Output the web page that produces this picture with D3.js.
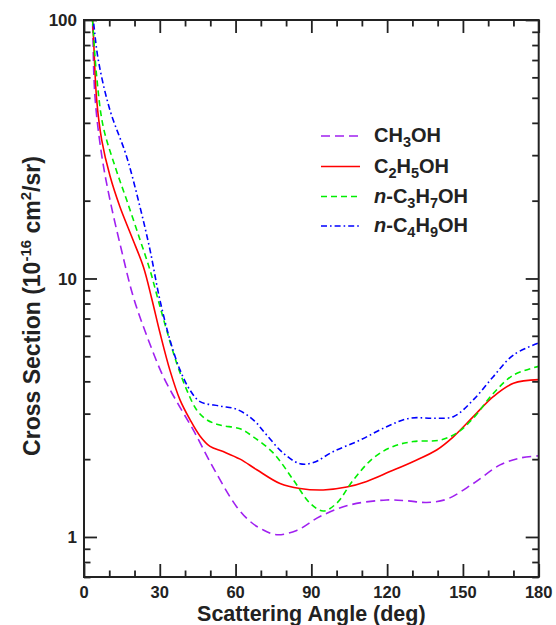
<!DOCTYPE html>
<html>
<head>
<meta charset="utf-8">
<script src="https://cdn.jsdelivr.net/npm/d3@7/dist/d3.min.js"></script>
<style>
  html, body { margin: 0; padding: 0; background: #fff; }
  svg { display: block; }
  text { font-family: "Liberation Sans", Arial, Helvetica, sans-serif; font-weight: bold; fill: #222; }
</style>
</head>
<body>
<svg id="chart" width="556" height="625"></svg>
<script>
// ---- data (angle in deg, cross section in 1e-16 cm^2/sr) ----
const angles_CH3OH = [2.5, 3.37, 4.35, 7.0, 10.3, 14.9, 19.5, 25.0, 31.4, 37.0, 43.3, 51.2, 60.4, 65.7, 70.5, 76.3, 84.2, 93.4, 105.3, 119.8, 128, 135.6, 143.6, 154.1, 164.7, 172.6, 180];
const values_CH3OH = [180, 100, 50.4, 30.0, 20.1, 12.8, 8.5, 5.95, 4.17, 3.30, 2.59, 1.85, 1.31, 1.15, 1.07, 1.02, 1.06, 1.20, 1.33, 1.39, 1.38, 1.36, 1.40, 1.61, 1.90, 2.02, 2.06];

const angles_C2H5OH = [2.5, 3.68, 5.03, 7.0, 10.3, 14.25, 18.9, 23.5, 26.8, 30.1, 34.0, 38.0, 42.0, 45.9, 49.9, 55.1, 61.8, 68.4, 77.6, 85.5, 94.7, 104.0, 111.9, 121.1, 130.4, 139.6, 146.2, 154.1, 162.0, 170.0, 180];
const values_C2H5OH = [150, 88.8, 49.0, 34.4, 24.9, 18.9, 14.5, 11.1, 8.37, 6.15, 4.42, 3.39, 2.84, 2.46, 2.24, 2.14, 2.0, 1.82, 1.61, 1.54, 1.52, 1.56, 1.64, 1.79, 1.96, 2.17, 2.44, 2.92, 3.49, 3.93, 4.06];

const angles_C3H7OH = [2.5, 3.37, 5.03, 7.6, 12.3, 16.9, 22.2, 26.1, 29.2, 32.7, 36.7, 40.7, 44.6, 48.6, 53.8, 61.8, 67.0, 75.0, 82.9, 89.5, 94.7, 100.0, 106.6, 114.5, 122.4, 130.4, 140.9, 147.5, 154.1, 162.0, 170.0, 180];
const values_C3H7OH = [130, 100, 60.3, 38.7, 27.1, 20.1, 14.1, 10.8, 8.37, 6.32, 4.70, 3.70, 3.10, 2.84, 2.71, 2.62, 2.44, 2.11, 1.66, 1.35, 1.26, 1.35, 1.66, 2.02, 2.24, 2.34, 2.37, 2.52, 2.88, 3.59, 4.23, 4.57];

const angles_C4H9OH = [2.5, 3.67, 5.65, 10.25, 16.88, 22.17, 26.13, 29.81, 34.04, 38.0, 41.96, 45.92, 53.8, 60.4, 67.0, 72.3, 78.9, 85.5, 90.8, 98.7, 109.3, 119.8, 129.0, 138.3, 146.2, 154.1, 162.0, 170.0, 180];
const values_C4H9OH = [123, 100, 70.1, 44.9, 29.6, 18.9, 12.9, 8.46, 5.78, 4.43, 3.70, 3.34, 3.21, 3.12, 2.84, 2.48, 2.11, 1.92, 1.94, 2.14, 2.37, 2.67, 2.88, 2.88, 2.92, 3.39, 4.17, 5.06, 5.63];

const xMajorTicks = [0, 30, 60, 90, 120, 150, 180];
const xMinorTicks = [10, 20, 40, 50, 70, 80, 100, 110, 130, 140, 160, 170];
const yMajorTicks = [1, 10, 100];
const yTickLabels = ["1", "10", "100"];
const yMinorTicks = [0.7, 0.8, 0.9, 2, 3, 4, 5, 6, 7, 8, 9, 20, 30, 40, 50, 60, 70, 80, 90];

const seriesNames = ["CH3OH", "C2H5OH", "n-C3H7OH", "n-C4H9OH"];
const seriesColors = ["#a020f0", "#ff0000", "#00ee00", "#0000ff"];

// ---- layout ----
const svg = d3.select("#chart");
const L = 84, R = 538.7, T = 20, B = 577;
const x = d3.scaleLinear().domain([0, 180]).range([L, R]);
const y = d3.scaleLog().domain([0.7, 100]).range([B, T]);

const series = [
  { a: angles_CH3OH, v: values_CH3OH, color: seriesColors[0], dash: "9,5" },
  { a: angles_C2H5OH, v: values_C2H5OH, color: seriesColors[1], dash: null },
  { a: angles_C3H7OH, v: values_C3H7OH, color: seriesColors[2], dash: "6,4" },
  { a: angles_C4H9OH, v: values_C4H9OH, color: seriesColors[3], dash: "6,3,1.6,3" }
];

svg.append("defs").append("clipPath").attr("id", "clip")
  .append("rect").attr("x", L).attr("y", T).attr("width", R - L).attr("height", B - T);

const line = d3.line().x(d => x(d[0])).y(d => y(d[1])).curve(d3.curveCatmullRom.alpha(0.5));
const gLines = svg.append("g").attr("clip-path", "url(#clip)");
series.forEach(s => {
  const pts = s.a.map((a, i) => [a, s.v[i]]);
  gLines.append("path").datum(pts)
    .attr("d", line)
    .attr("fill", "none")
    .attr("stroke", s.color)
    .attr("stroke-width", 1.6)
    .attr("stroke-dasharray", s.dash);
});

// ---- axes ----
const tickStroke = 1.8;
function styleAxis(g) {
  g.select(".domain").remove();
  g.selectAll(".tick line").attr("stroke", "#222").attr("stroke-width", tickStroke);
  g.selectAll(".tick text").remove();
}
svg.append("g").attr("transform", `translate(0,${B})`)
  .call(d3.axisBottom(x).tickValues(xMajorTicks).tickSize(-13)).call(styleAxis);
svg.append("g").attr("transform", `translate(0,${B})`)
  .call(d3.axisBottom(x).tickValues(xMinorTicks).tickSize(-6.5)).call(styleAxis);
svg.append("g").attr("transform", `translate(0,${T})`)
  .call(d3.axisTop(x).tickValues(xMajorTicks).tickSize(-13)).call(styleAxis);
svg.append("g").attr("transform", `translate(0,${T})`)
  .call(d3.axisTop(x).tickValues(xMinorTicks).tickSize(-6.5)).call(styleAxis);
svg.append("g").attr("transform", `translate(${L},0)`)
  .call(d3.axisLeft(y).tickValues(yMajorTicks).tickSize(-13)).call(styleAxis);
svg.append("g").attr("transform", `translate(${L},0)`)
  .call(d3.axisLeft(y).tickValues(yMinorTicks).tickSize(-6.5)).call(styleAxis);
svg.append("g").attr("transform", `translate(${R},0)`)
  .call(d3.axisRight(y).tickValues(yMajorTicks).tickSize(-13)).call(styleAxis);
svg.append("g").attr("transform", `translate(${R},0)`)
  .call(d3.axisRight(y).tickValues(yMinorTicks).tickSize(-6.5)).call(styleAxis);

svg.append("rect").attr("x", L).attr("y", T).attr("width", R - L).attr("height", B - T)
  .attr("fill", "none").attr("stroke", "#222").attr("stroke-width", 2);

// tick labels
svg.append("g").selectAll("text").data(xMajorTicks).join("text")
  .attr("x", d => x(d)).attr("y", 598)
  .attr("text-anchor", "middle").attr("font-size", 16.5)
  .text(d => d);
svg.append("g").selectAll("text").data(yMajorTicks).join("text")
  .attr("x", 77).attr("y", d => y(d)).attr("dy", "0.36em")
  .attr("text-anchor", "end").attr("font-size", 17)
  .text((d, i) => yTickLabels[i]);

// axis titles
svg.append("text").attr("x", (L + R) / 2).attr("y", 621)
  .attr("text-anchor", "middle").attr("font-size", 21.5)
  .text("Scattering Angle (deg)");

const yt = svg.append("text")
  .attr("transform", "translate(40,306) rotate(-90)")
  .attr("text-anchor", "middle").attr("font-size", 23);
yt.append("tspan").text("Cross Section (10");
yt.append("tspan").attr("font-size", 15).attr("dy", -9).text("-16");
yt.append("tspan").attr("dy", 9).text(" cm");
yt.append("tspan").attr("font-size", 15).attr("dy", -9).text("2");
yt.append("tspan").attr("dy", 9).text("/sr)");

// legend
const legY = [136, 166.5, 196.5, 226];
const leg = svg.append("g");
series.forEach((s, i) => {
  leg.append("line")
    .attr("x1", 321).attr("x2", 360).attr("y1", legY[i]).attr("y2", legY[i])
    .attr("stroke", s.color).attr("stroke-width", 1.6)
    .attr("stroke-dasharray", s.dash);
  const t = leg.append("text").attr("x", 374).attr("y", legY[i] + 6).attr("font-size", 20);
  const name = seriesNames[i];
  let rest = name;
  if (name.startsWith("n-")) {
    t.append("tspan").attr("font-style", "italic").text("n");
    t.append("tspan").text("-");
    rest = name.slice(2);
  }
  const parts = rest.match(/[A-Za-z]+|\d+/g);
  let sub = false;
  parts.forEach(p => {
    const isDigit = /^\d+$/.test(p);
    const ts = t.append("tspan").text(p);
    if (isDigit) {
      ts.attr("font-size", 14.5).attr("dy", sub ? 0 : 5);
      sub = true;
    } else if (sub) {
      ts.attr("dy", -5);
      sub = false;
    }
  });
});
</script>
</body>
</html>
